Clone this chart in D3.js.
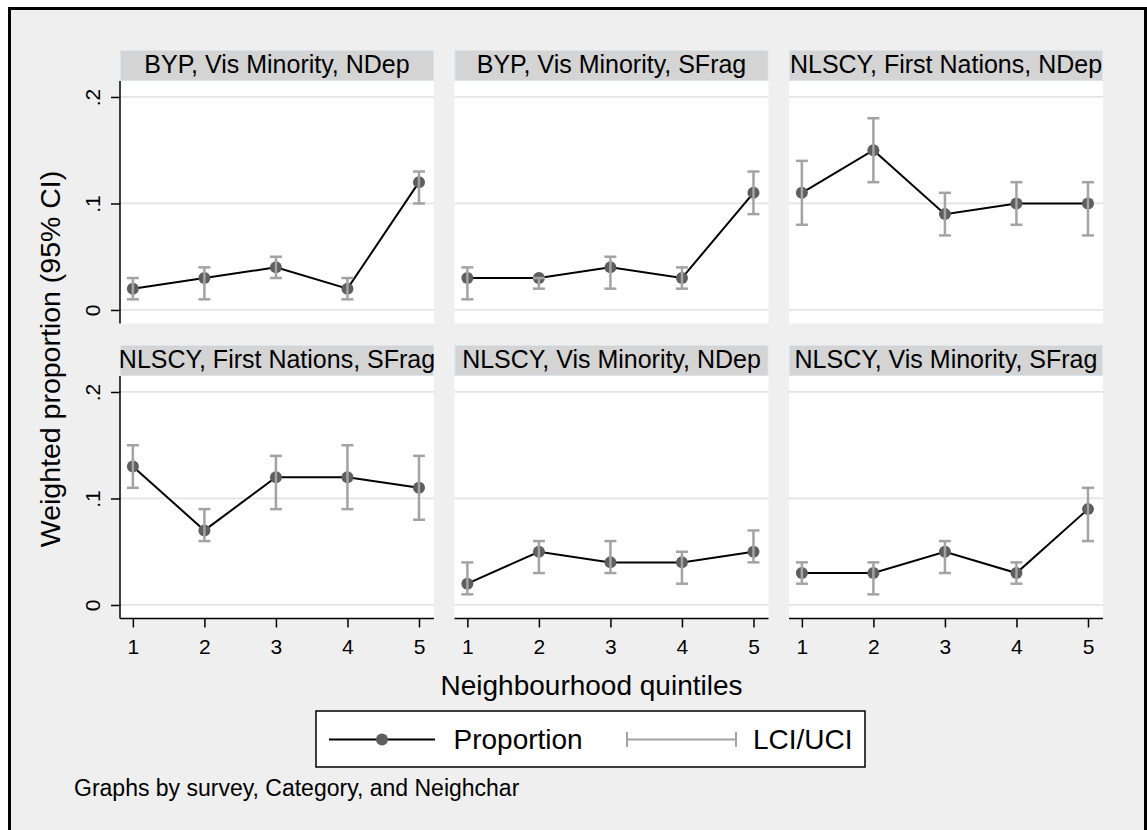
<!DOCTYPE html>
<html>
<head>
<meta charset="utf-8">
<script src="https://cdn.jsdelivr.net/npm/d3@7"></script>
<style>
  html, body { margin: 0; padding: 0; background: #ffffff; }
  svg { display: block; }
  text { font-family: "Liberation Sans", Arial, Helvetica, sans-serif; fill: #000; }
</style>
</head>
<body>
<svg id="chart" width="1147" height="830"></svg>
<script>
// Panel titles (survey, category, neighbourhood characteristic)
const panelTitles = [
  "BYP, Vis Minority, NDep",
  "BYP, Vis Minority, SFrag",
  "NLSCY, First Nations, NDep",
  "NLSCY, First Nations, SFrag",
  "NLSCY, Vis Minority, NDep",
  "NLSCY, Vis Minority, SFrag"
];

// Neighbourhood quintiles on the x axis
const quintiles = [1, 2, 3, 4, 5];

// Weighted proportion per panel, one value per quintile
const proportion = [
  [0.02, 0.03, 0.04, 0.02, 0.12],
  [0.03, 0.03, 0.04, 0.03, 0.11],
  [0.11, 0.15, 0.09, 0.10, 0.10],
  [0.13, 0.07, 0.12, 0.12, 0.11],
  [0.02, 0.05, 0.04, 0.04, 0.05],
  [0.03, 0.03, 0.05, 0.03, 0.09]
];

// Lower 95% confidence limits
const lowerCI = [
  [0.01, 0.01, 0.03, 0.01, 0.10],
  [0.01, 0.02, 0.02, 0.02, 0.09],
  [0.08, 0.12, 0.07, 0.08, 0.07],
  [0.11, 0.06, 0.09, 0.09, 0.08],
  [0.01, 0.03, 0.03, 0.02, 0.04],
  [0.02, 0.01, 0.03, 0.02, 0.06]
];

// Upper 95% confidence limits
const upperCI = [
  [0.03, 0.04, 0.05, 0.03, 0.13],
  [0.04, 0.03, 0.05, 0.04, 0.13],
  [0.14, 0.18, 0.11, 0.12, 0.12],
  [0.15, 0.09, 0.14, 0.15, 0.14],
  [0.04, 0.06, 0.06, 0.05, 0.07],
  [0.04, 0.04, 0.06, 0.04, 0.11]
];

// Axis ticks
const yTicks = [0, 0.1, 0.2];
const yTickLabels = ["0", ".1", ".2"];

const yTitle = "Weighted proportion (95% CI)";
const xTitle = "Neighbourhood quintiles";
const legendLabels = ["Proportion", "LCI/UCI"];
const note = "Graphs by survey, Category, and Neighchar";

// ---- layout ----
const W = 1147, H = 830;
const colX = [120, 454.5, 789];
const rowY = [81, 376];
const pw = 314, ph = 242.5, stripH = 31;
const nCols = 3;

const BG = "#efefef";
const STRIP = "#d4d4d4";
const GRID = "#e4e4e4";
const MARKER = "#5e5e5e";
const CI = "#a3a3a3";
const FONT = "'Liberation Sans', Arial, Helvetica, sans-serif";

const svg = d3.select("#chart");

// graph region with frame
svg.append("rect").attr("x", 8).attr("y", 7).attr("width", W - 8).attr("height", H - 7).attr("fill", BG);
svg.append("line").attr("x1", 9.5).attr("x2", 9.5).attr("y1", 7).attr("y2", H).attr("stroke", "#000").attr("stroke-width", 3);
svg.append("line").attr("x1", 8).attr("x2", W).attr("y1", 8.5).attr("y2", 8.5).attr("stroke", "#000").attr("stroke-width", 3);
svg.append("line").attr("x1", W - 1.5).attr("x2", W - 1.5).attr("y1", 7).attr("y2", H).attr("stroke", "#000").attr("stroke-width", 3);

const x = d3.scaleLinear().domain([0.82, 5.21]).range([0, pw]);
const y = d3.scaleLinear().domain([-0.0127, 0.215]).range([ph, 0]);

const line = d3.line().x((d, i) => x(quintiles[i])).y(d => y(d));

panelTitles.forEach((title, p) => {
  const col = p % nCols, row = Math.floor(p / nCols);
  const g = svg.append("g").attr("transform", `translate(${colX[col]},${rowY[row]})`);

  // strip
  g.append("rect").attr("x", 0.5).attr("y", -stripH + 0.5).attr("width", pw - 1).attr("height", stripH - 1)
    .attr("fill", STRIP).attr("stroke", "#dae4ec").attr("stroke-width", 1);
  g.append("text").attr("x", pw / 2).attr("y", -stripH + 22.5).attr("text-anchor", "middle")
    .attr("font-size", 25).text(title);

  // plot region
  g.append("rect").attr("x", 0).attr("y", 0).attr("width", pw).attr("height", ph).attr("fill", "#ffffff");

  // gridlines
  g.selectAll(".grid").data(yTicks).join("line")
    .attr("x1", 0).attr("x2", pw)
    .attr("y1", d => y(d)).attr("y2", d => y(d))
    .attr("stroke", GRID).attr("stroke-width", 1.8);

  // connected proportion line
  g.append("path").datum(proportion[p]).attr("d", line)
    .attr("fill", "none").attr("stroke", "#000").attr("stroke-width", 2);

  // markers
  g.selectAll(".pt").data(proportion[p]).join("circle")
    .attr("cx", (d, i) => x(quintiles[i])).attr("cy", d => y(d)).attr("r", 6)
    .attr("fill", MARKER);

  // confidence interval caps
  const cap = 6;
  const ci = g.append("g").attr("stroke", CI).attr("stroke-width", 2.5).attr("fill", "none");
  quintiles.forEach((q, i) => {
    const cx = x(q), lo = y(lowerCI[p][i]), hi = y(upperCI[p][i]);
    ci.append("line").attr("x1", cx).attr("x2", cx).attr("y1", lo).attr("y2", hi);
    ci.append("line").attr("x1", cx - cap).attr("x2", cx + cap).attr("y1", lo).attr("y2", lo);
    ci.append("line").attr("x1", cx - cap).attr("x2", cx + cap).attr("y1", hi).attr("y2", hi);
  });

  // y axis on first column
  if (col === 0) {
    const ya = g.append("g").call(
      d3.axisLeft(y).tickValues(yTicks).tickSize(9).tickSizeOuter(0)
        .tickFormat((d, i) => yTickLabels[i])
    );
    ya.select(".domain").attr("d", `M0,0V${ph}`).attr("stroke", "#000").attr("stroke-width", 1.5);
    ya.selectAll(".tick line").attr("stroke", "#000").attr("stroke-width", 1.5);
    ya.selectAll(".tick text")
      .attr("x", null).attr("dy", null)
      .attr("transform", "translate(-20,0) rotate(-90)")
      .attr("text-anchor", "middle")
      .attr("font-size", 21)
      .style("font-family", FONT)
      .attr("fill", "#000");
  }

  // x axis on bottom row
  if (row === 1) {
    const xa = g.append("g").attr("transform", `translate(0,${ph})`).call(
      d3.axisBottom(x).tickValues(quintiles).tickSize(9).tickSizeOuter(0).tickFormat(d3.format("d"))
    );
    xa.select(".domain").attr("d", `M0,0H${pw}`).attr("stroke", "#000").attr("stroke-width", 1.5);
    xa.selectAll(".tick line").attr("stroke", "#000").attr("stroke-width", 1.5);
    xa.selectAll(".tick text")
      .attr("y", 35.5).attr("dy", null)
      .attr("font-size", 21)
      .style("font-family", FONT)
      .attr("fill", "#000");
  }
});

// axis titles
svg.append("text").attr("transform", "translate(60,359) rotate(-90)")
  .attr("text-anchor", "middle").attr("font-size", 28.5).text(yTitle);
svg.append("text").attr("x", 591.5).attr("y", 695)
  .attr("text-anchor", "middle").attr("font-size", 28).text(xTitle);

// legend
const lg = svg.append("g");
lg.append("rect").attr("x", 316).attr("y", 711).attr("width", 549).attr("height", 56)
  .attr("fill", "#fff").attr("stroke", "#000").attr("stroke-width", 1.5);
const ly = 739.5;
lg.append("line").attr("x1", 329).attr("x2", 435).attr("y1", ly).attr("y2", ly)
  .attr("stroke", "#000").attr("stroke-width", 2);
lg.append("circle").attr("cx", 382).attr("cy", ly).attr("r", 6).attr("fill", MARKER);
lg.append("text").attr("x", 453.5).attr("y", 749).attr("font-size", 28).text(legendLabels[0]);
const ciG = lg.append("g").attr("stroke", CI).attr("stroke-width", 2);
ciG.append("line").attr("x1", 627).attr("x2", 736).attr("y1", ly).attr("y2", ly);
ciG.append("line").attr("x1", 627).attr("x2", 627).attr("y1", ly - 7.5).attr("y2", ly + 7.5);
ciG.append("line").attr("x1", 736).attr("x2", 736).attr("y1", ly - 7.5).attr("y2", ly + 7.5);
lg.append("text").attr("x", 753).attr("y", 749).attr("font-size", 28).text(legendLabels[1]);

// note
svg.append("text").attr("x", 74).attr("y", 796).attr("font-size", 23).text(note);
</script>
</body>
</html>
